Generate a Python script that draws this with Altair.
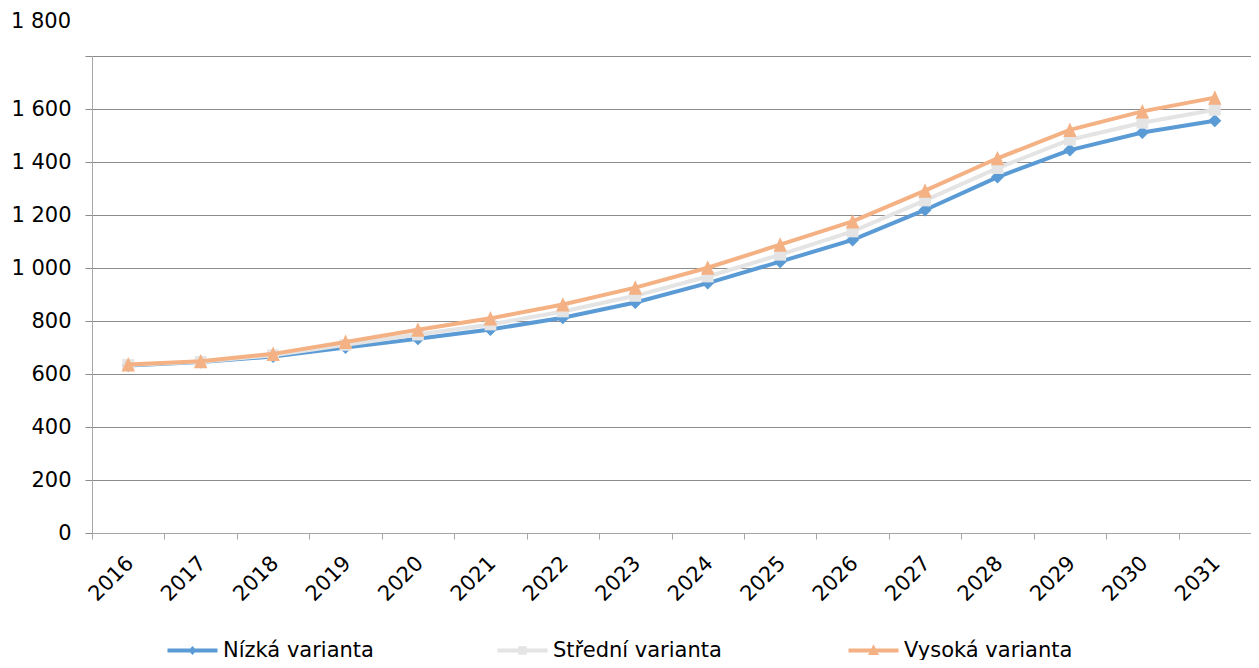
import altair as alt
import pandas as pd

years = [str(y) for y in range(2016, 2032)]
series_names = ["Nízká varianta", "Střední varianta", "Vysoká varianta"]
low = [632, 645, 666, 700, 733, 768, 812, 870, 943, 1024, 1106, 1219, 1343, 1445, 1511, 1556]
mid = [634, 646, 671, 710, 749, 787, 836, 895, 968, 1050, 1138, 1255, 1377, 1484, 1548, 1597]
high = [636, 648, 676, 721, 767, 810, 862, 926, 1001, 1088, 1176, 1292, 1414, 1521, 1591, 1643]
colors = ["#5B9BD5", "#E4E4E4", "#F4B183"]
marker_shapes = ["diamond", "square", "M0,-1.1L1,1.05L-1,1.05Z"]
marker_sizes = [170, 140, 180]
y_ticks = [0, 200, 400, 600, 800, 1000, 1200, 1400, 1600, 1800]
top_label = ["1 800"]

# legend symbols (radius 10 px): a 50 px line with the series' marker in the middle
STUB = "M-2.5,-0.2L2.5,-0.2L2.5,0.2L-2.5,0.2Z "
legend_paths = [
    STUB + "M0,-0.45L0.4,0L0,0.45L-0.4,0Z",
    STUB + "M-0.42,-0.42L0.42,-0.42L0.42,0.42L-0.42,0.42Z",
    STUB + "M0,-0.62L0.55,0.45L-0.55,0.45Z",
]
legend_x = [90, 420, 771]

rows = []
for name, vals in zip(series_names, [low, mid, high]):
    for yr, v in zip(years, vals):
        rows.append({"rok": yr, "varianta": name, "hodnota": v})
df = pd.DataFrame(rows)
top_df = pd.DataFrame({"hodnota": [y_ticks[-1]], "popis": top_label})

FONT = "DejaVu Sans"

x_enc = alt.X(
    "rok:O",
    sort=years,
    scale=alt.Scale(type="band", paddingInner=0, paddingOuter=0),
    axis=alt.Axis(
        title=None, labelAngle=-45, tickBand="extent", tickSize=6,
        tickColor="#A6A6A6", domainColor="#A6A6A6", labelFont=FONT,
        labelFontSize=21, labelColor="#000000", labelPadding=13, labelOffset=-6,
        grid=False,
    ),
)
y_enc = alt.Y(
    "hodnota:Q",
    scale=alt.Scale(domain=[0, 1800], nice=False),
    axis=alt.Axis(
        title=None, values=y_ticks, grid=True, gridColor="#8C8C8C", gridWidth=1,
        tickSize=7, tickColor="#8C8C8C", domainColor="#A6A6A6", labelFont=FONT,
        labelFontSize=21, labelColor="#000000", labelPadding=14,
        labelExpr="datum.value == 1800 ? '' : replace(format(datum.value, ','), ',', ' ')",
    ),
)

series_layers = []
for i, name in enumerate(series_names):
    leg = alt.Legend(
        title=None, orient="none", direction="horizontal",
        legendX=legend_x[i], legendY=584,
        symbolType=legend_paths[i], symbolSize=400, symbolStrokeWidth=0,
        symbolFillColor=colors[i], symbolStrokeColor=colors[i], symbolOpacity=1,
        labelFont=FONT, labelFontSize=21, labelColor="#000000",
        labelOffset=20, labelLimit=400,
    )
    cscale = alt.Scale(domain=[name], range=[colors[i]])
    base = alt.Chart(df).transform_filter(alt.datum.varianta == name)
    line = base.mark_line(strokeWidth=4).encode(
        x=x_enc, y=y_enc,
        color=alt.Color("varianta:N", scale=cscale, legend=leg),
        order=alt.Order("rok:O"),
    )
    pts = base.mark_point(
        filled=True, opacity=1, strokeWidth=0,
        shape=marker_shapes[i], size=marker_sizes[i],
    ).encode(
        x=x_enc, y=y_enc,
        color=alt.Color("varianta:N", scale=cscale, legend=leg),
    )
    series_layers.append(alt.layer(line, pts))

top_text = alt.Chart(top_df).mark_text(
    align="right", baseline="middle", dy=-34, font=FONT, fontSize=21, color="#000000"
).encode(
    x=alt.value(-21), y=y_enc, text="popis:N"
)

chart = alt.layer(*series_layers, top_text).resolve_scale(
    color="independent"
).resolve_legend(
    color="independent"
).properties(
    width=1159, height=477,
    padding={"left": 84, "top": 48, "right": 0, "bottom": 127},
    autosize=alt.AutoSizeParams(type="none"),
).configure_view(stroke=None)

chart.save("out.html", embed_options={"renderer": "svg", "actions": False})
